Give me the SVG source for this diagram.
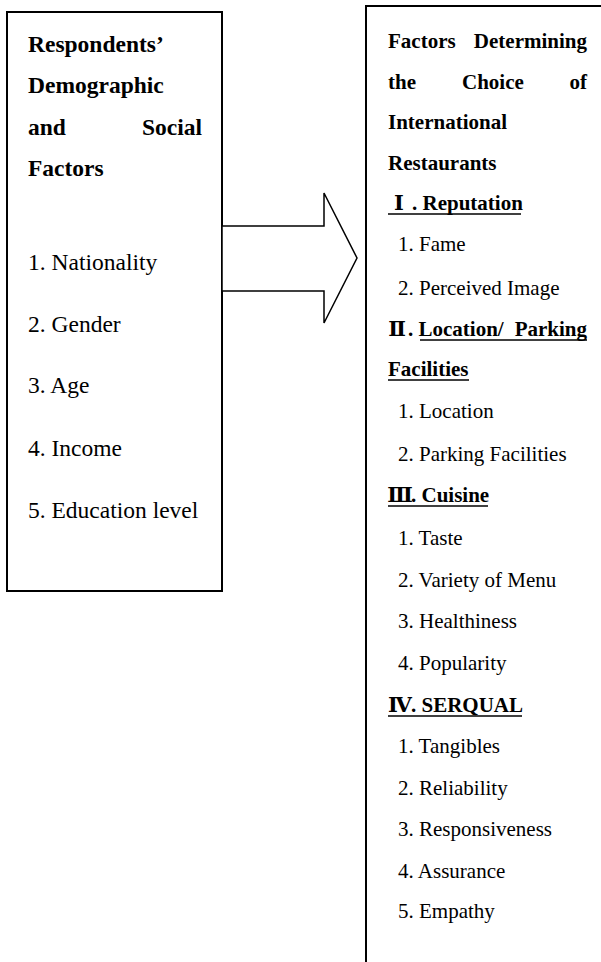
<svg xmlns="http://www.w3.org/2000/svg" width="601" height="962" viewBox="0 0 601 962">
<style>
  .box { fill: #ffffff; stroke: #000000; stroke-width: 2; }
  .arrow { fill: #ffffff; stroke: #000000; stroke-width: 1.5; stroke-linejoin: miter; }
  .ul { stroke: #000000; stroke-width: 1.6; }
  .lh { font-size: 23.5px; font-weight: bold; }
  .li { font-size: 23.5px; }
  .rh { font-size: 21px; font-weight: bold; }
  .ri { font-size: 21px; }
</style>
<rect width="601" height="962" fill="#ffffff"/>

<g id="demographic-factors" font-family="Liberation Serif, serif" fill="#000000">
  <rect class="box" x="7" y="12" width="215" height="579"/>
  <text class="lh" x="28" y="52">Respondents’</text>
  <text class="lh" x="28" y="93">Demographic</text>
  <text class="lh" x="28" y="135">and</text>
  <text class="lh" x="202" y="135" text-anchor="end">Social</text>
  <text class="lh" x="28" y="176">Factors</text>
  <text class="li" x="28" y="270">1. Nationality</text>
  <text class="li" x="28" y="332">2. Gender</text>
  <text class="li" x="28" y="393">3. Age</text>
  <text class="li" x="28" y="456">4. Income</text>
  <text class="li" x="28" y="518">5. Education level</text>
</g>

<g id="choice-factors" font-family="Liberation Serif, DejaVu Serif, serif" fill="#000000">
  <rect class="box" x="366" y="6" width="300" height="1000"/>
  <text class="rh" x="388" y="48">Factors</text>
  <text class="rh" x="587" y="48" text-anchor="end">Determining</text>
  <text class="rh" x="388" y="89">the</text>
  <text class="rh" x="462" y="89">Choice</text>
  <text class="rh" x="587" y="89" text-anchor="end">of</text>
  <text class="rh" x="388" y="129">International</text>
  <text class="rh" x="388" y="170">Restaurants</text>

  <text class="rh" y="210"><tspan x="399" text-anchor="middle">Ⅰ</tspan><tspan x="412">. Reputation</tspan></text>
  <line class="ul" x1="388" y1="214" x2="521" y2="214"/>
  <text class="ri" x="398" y="251">1. Fame</text>
  <text class="ri" x="398" y="295">2. Perceived Image</text>

  <text class="rh" y="336"><tspan x="397" text-anchor="middle">Ⅱ</tspan><tspan x="408">. Location/</tspan><tspan x="587" text-anchor="end">Parking</tspan></text>
  <line class="ul" x1="420" y1="340" x2="587" y2="340"/>
  <text class="rh" x="388" y="376">Facilities</text>
  <line class="ul" x1="388" y1="380" x2="469" y2="380"/>
  <text class="ri" x="398" y="418">1. Location</text>
  <text class="ri" x="398" y="461">2. Parking Facilities</text>

  <text class="rh" y="502"><tspan x="400" text-anchor="middle">Ⅲ</tspan><tspan x="411">. Cuisine</tspan></text>
  <line class="ul" x1="388" y1="506" x2="488" y2="506"/>
  <text class="ri" x="398" y="545">1. Taste</text>
  <text class="ri" x="398" y="587">2. Variety of Menu</text>
  <text class="ri" x="398" y="628">3. Healthiness</text>
  <text class="ri" x="398" y="670">4. Popularity</text>

  <text class="rh" y="712"><tspan x="400" text-anchor="middle">Ⅳ</tspan><tspan x="411">. SERQUAL</tspan></text>
  <line class="ul" x1="388" y1="716" x2="522" y2="716"/>
  <text class="ri" x="398" y="753">1. Tangibles</text>
  <text class="ri" x="398" y="795">2. Reliability</text>
  <text class="ri" x="398" y="836">3. Responsiveness</text>
  <text class="ri" x="398" y="878">4. Assurance</text>
  <text class="ri" x="398" y="918">5. Empathy</text>
</g>

<g id="connectors">
  <polygon class="arrow" points="222,226 324,226 324,193 357,258 324,323 324,291 222,291"/>
</g>
</svg>
